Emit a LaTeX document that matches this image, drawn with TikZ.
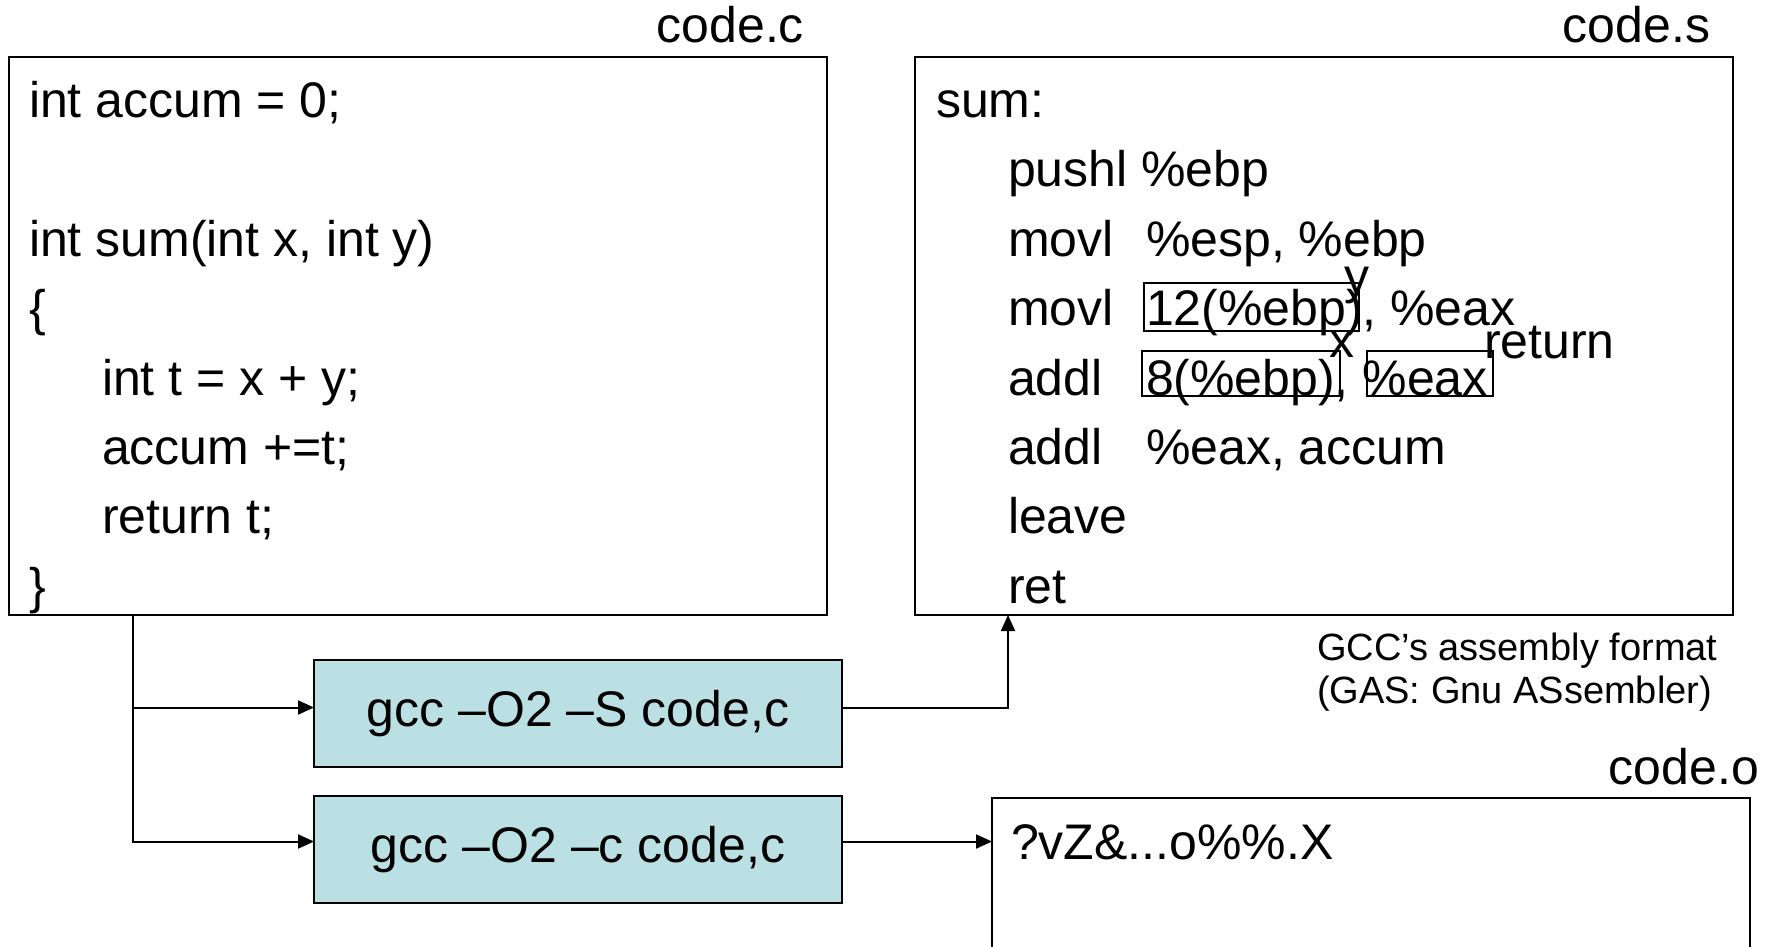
\documentclass[tikz,border=0pt]{standalone}
\usepackage{fontspec}
\setmainfont{Liberation Sans}
\usetikzlibrary{arrows.meta}
\definecolor{cmdfill}{RGB}{187,224,227}
\begin{document}
\begin{tikzpicture}[x=1pt,y=-1pt,
  every node/.style={inner sep=0pt, outer sep=0pt},
  codetext/.style={font=\fontsize{50}{60}\selectfont, anchor=base west},
  fname/.style={font=\fontsize{50}{60}\selectfont, anchor=base east},
  note/.style={font=\fontsize{38}{45}\selectfont, anchor=base west},
  filebox/.style={draw, line width=2pt, anchor=north west},
  cmdbox/.style={draw, line width=2pt, fill=cmdfill, anchor=north west,
    minimum width=528pt, minimum height=107pt, font=\fontsize{50}{60}\selectfont},
  operand/.style={draw, line width=1.4pt, anchor=north west},
  flow/.style={line width=2pt, -{Triangle[length=16pt,width=14pt]}},
]
\fill[white] (0,0) rectangle (1776,946);
\useasboundingbox (0,0) rectangle (1776,946);

% source, assembly and object files
\node[filebox, minimum width=818pt, minimum height=558pt] (cc) at (9,57) {};
\node[filebox, minimum width=818pt, minimum height=558pt] (cs) at (915,57) {};
\node[filebox, minimum width=758pt, minimum height=200pt] (co) at (992,798) {};

\node[fname] (lc) at (804,42) {code.c};
\node[fname] (ls) at (1710,42) {code.s};
\node[fname] (lo) at (1759,784) {code.o};

% compiler commands
\node[cmdbox] (gccS) at (314,660) {gcc –O2 –S code,c};
\node[cmdbox] (gccC) at (314,796) {gcc –O2 –c code,c};

% C source
\node[codetext] (c1) at (29,117) {int accum = 0;};
\node[codetext] (c3) at (29,256) {int sum(int x, int y)};
\node[codetext] (c4) at (29,325) {\{};
\node[codetext] (c5) at (102,395) {int t = x + y;};
\node[codetext] (c6) at (102,464) {accum +=t;};
\node[codetext] (c7) at (102,533) {return t;};
\node[codetext] (c8) at (29,603) {\}};

% assembly
\node[codetext] (s1) at (936,117) {sum:};
\node[codetext] (s2) at (1008,186) {pushl \%ebp};
\node[codetext] (s3) at (1008,256) {movl};
\node[codetext] (o3) at (1146,256) {\%esp, \%ebp};
\node[codetext] (s4) at (1008,325) {movl};
\node[codetext] (o4) at (1146,325) {12(\%ebp), \%eax};
\node[codetext] (s5) at (1008,395) {addl};
\node[codetext] (o5) at (1146,395) {8(\%ebp), \%eax};
\node[codetext] (s6) at (1008,464) {addl};
\node[codetext] (o6) at (1146,464) {\%eax, accum};
\node[codetext] (s7) at (1008,533) {leave};
\node[codetext] (s8) at (1008,603) {ret};

% operand highlights
\node[operand, minimum width=215pt, minimum height=48pt] (opy) at (1144,283) {};
\node[operand, minimum width=198pt, minimum height=45pt] (opx) at (1142,351) {};
\node[operand, minimum width=126pt, minimum height=45pt] (opr) at (1367,351) {};
\node[codetext, anchor=base] (ly) at (1357,293) {y};
\node[codetext, anchor=base] (lx) at (1342,357) {x};
\node[codetext] (lr) at (1484,358) {return};

% notes and object bytes
\node[note] (n1) at (1317,660) {GCC’s assembly format};
\node[note] (n2) at (1317,703) {(GAS: Gnu ASsembler)};
\node[codetext] (obj) at (1011,859) {?vZ\&...o\%\%.X};

% connectors
\coordinate (split) at ([xshift=124pt]cc.south west);
\draw[flow] (split) |- ([yshift=6pt]gccS.west);
\draw[flow] (split) |- ([yshift=8pt]gccC.west);
\draw[flow] ([yshift=6pt]gccS.east) -| ([xshift=93pt]cs.south west);
\draw[flow] ([yshift=8pt]gccC.east) -- ([yshift=8pt]gccC.east -| co.west);
\end{tikzpicture}
\end{document}
